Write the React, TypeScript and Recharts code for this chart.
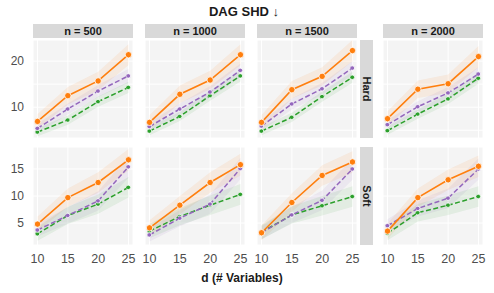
import { Area, CartesianGrid, ComposedChart, Line, XAxis, YAxis } from "recharts";

const dValues = [10, 15, 20, 25];
const sampleSizes = ["n = 500", "n = 1000", "n = 1500", "n = 2000"];
const settings = ["Hard", "Soft"];

// one inner list per sample size, values at d = 10, 15, 20, 25
const hardOrange = [
  [6.9, 12.5, 15.7, 21.4],
  [6.7, 12.8, 15.9, 21.4],
  [6.7, 13.8, 16.7, 22.3],
  [7.5, 13.9, 15.1, 21.0],
];
const hardPurple = [
  [5.4, 9.6, 13.5, 16.8],
  [5.8, 9.6, 13.3, 18.0],
  [5.9, 10.7, 14.0, 18.5],
  [6.2, 10.1, 13.1, 17.2],
];
const hardGreen = [
  [4.6, 7.2, 11.2, 14.3],
  [4.8, 8.0, 12.5, 16.8],
  [4.8, 7.8, 12.3, 16.5],
  [4.9, 8.5, 11.8, 16.3],
];
const softOrange = [
  [4.8, 9.7, 12.5, 16.7],
  [4.1, 8.3, 12.5, 15.8],
  [3.2, 8.8, 13.8, 16.3],
  [3.5, 9.7, 13.0, 15.5],
];
const softPurple = [
  [3.7, 6.4, 9.1, 15.4],
  [2.8, 5.9, 8.5, 15.1],
  [3.2, 6.5, 9.2, 15.0],
  [4.5, 7.7, 9.6, 15.0],
];
const softGreen = [
  [3.0, 6.4, 8.5, 11.6],
  [3.5, 6.2, 8.3, 10.3],
  [3.3, 6.5, 8.2, 9.9],
  [3.1, 6.9, 8.3, 9.9],
];

// half-width of the shaded band, at d = 10, 15, 20, 25
const hardOrangeSpread = [1.6, 1.9, 2.0, 2.3];
const hardPurpleSpread = [1.0, 1.2, 1.3, 1.5];
const hardGreenSpread = [0.9, 1.0, 1.1, 1.2];
const softOrangeSpread = [1.4, 1.7, 1.9, 2.0];
const softPurpleSpread = [1.2, 1.5, 1.8, 2.0];
const softGreenSpread = [1.3, 1.6, 1.8, 1.9];

const hardTicks = [5, 10, 15, 20];
const softTicks = [5, 10, 15];

const ORANGE = "#FF7F0E";
const PURPLE = "#9467BD";
const GREEN = "#2CA02C";

const colX = [33, 145, 257, 383];
const rowY = [40, 147];
const PW = 100;
const PH = 98;
const Y_AXIS_W = 33;
const X_AXIS_H = 24;
const SIDE = 8; // room either side so the outer tick labels are not clipped

const rows = [
  {
    orange: hardOrange, purple: hardPurple, green: hardGreen,
    spreads: [hardOrangeSpread, hardPurpleSpread, hardGreenSpread],
    domain: [3.3, 24.6], ticks: hardTicks, labelled: [10, 20],
  },
  {
    orange: softOrange, purple: softPurple, green: softGreen,
    spreads: [softOrangeSpread, softPurpleSpread, softGreenSpread],
    domain: [0.93, 19.07], ticks: softTicks, labelled: [5, 10, 15],
  },
];

function buildData(r: number, c: number) {
  const row = rows[r];
  return dValues.map((d, i) => {
    const o = row.orange[c][i];
    const p = row.purple[c][i];
    const g = row.green[c][i];
    return {
      d,
      orange: o,
      purple: p,
      green: g,
      orangeBand: [o - row.spreads[0][i], o + row.spreads[0][i]],
      purpleBand: [p - row.spreads[1][i], p + row.spreads[1][i]],
      greenBand: [g - row.spreads[2][i], g + row.spreads[2][i]],
    };
  });
}

const font = "Liberation Sans, Arial, sans-serif";
const tickStyle = { fontSize: 12, fill: "#4D4D4D", fontFamily: font };

function Panel({ r, c }: { r: number; c: number }) {
  const row = rows[r];
  const showY = c === 0;
  const showX = r === 1;
  const yw = showY ? Y_AXIS_W : 0;
  const width = PW + yw + 2 * SIDE;
  const height = PH + (showX ? X_AXIS_H : 0);
  return (
    <div style={{ position: "absolute", left: colX[c] - yw - SIDE, top: rowY[r] }}>
      <ComposedChart
        width={width}
        height={height}
        data={buildData(r, c)}
        margin={{ top: 0, right: SIDE, bottom: 0, left: SIDE }}
      >
        <CartesianGrid stroke="#FFFFFF" strokeWidth={1} fill="#F4F4F4" />
        <XAxis
          type="number"
          dataKey="d"
          domain={[9.25, 25.75]}
          ticks={dValues}
          allowDataOverflow
          hide={!showX}
          height={X_AXIS_H}
          tickLine={false}
          axisLine={false}
          tickSize={0}
          tickMargin={9}
          tick={{ ...tickStyle, fontSize: 12.5 }}
          interval={0}
        />
        <YAxis
          type="number"
          domain={row.domain}
          ticks={row.ticks}
          allowDataOverflow
          hide={!showY}
          width={Y_AXIS_W}
          tickLine={false}
          axisLine={false}
          tickSize={0}
          tickMargin={9}
          tick={tickStyle}
          interval={0}
          tickFormatter={(v: number) => (row.labelled.includes(v) ? String(v) : "")}
        />
        <Area dataKey="orangeBand" stroke="none" fill={ORANGE} fillOpacity={0.09} isAnimationActive={false} />
        <Area dataKey="purpleBand" stroke="none" fill={PURPLE} fillOpacity={0.09} isAnimationActive={false} />
        <Area dataKey="greenBand" stroke="none" fill={GREEN} fillOpacity={0.09} isAnimationActive={false} />
        <Line
          dataKey="green"
          stroke={GREEN}
          strokeWidth={1.5}
          strokeDasharray="5 2.5"
          dot={{ r: 2.2, fill: GREEN, stroke: "#FFFFFF", strokeWidth: 0.8 }}
          isAnimationActive={false}
        />
        <Line
          dataKey="purple"
          stroke={PURPLE}
          strokeWidth={1.5}
          strokeDasharray="5 2.5"
          dot={{ r: 2.2, fill: PURPLE, stroke: "#FFFFFF", strokeWidth: 0.8 }}
          isAnimationActive={false}
        />
        <Line
          dataKey="orange"
          stroke={ORANGE}
          strokeWidth={1.6}
          dot={{ r: 3.2, fill: ORANGE, stroke: "#FFFFFF", strokeWidth: 0.8 }}
          isAnimationActive={false}
        />
      </ComposedChart>
    </div>
  );
}

export default function App() {
  return (
    <div style={{ position: "absolute", left: 0, top: 0, width: 494, height: 293, background: "#FFFFFF", fontFamily: font }}>
      <div style={{ position: "absolute", left: 0, width: 488, top: 4, textAlign: "center", fontSize: 13, fontWeight: 700, color: "#1A1A1A" }}>
        DAG SHD ↓
      </div>
      {sampleSizes.map((label, c) => (
        <div
          key={label}
          style={{
            position: "absolute", left: colX[c], top: 24, width: PW, height: 14, background: "#D9D9D9",
            fontSize: 11, fontWeight: 700, color: "#1A1A1A", textAlign: "center", lineHeight: "14px",
          }}
        >
          {label}
        </div>
      ))}
      {settings.map((label, r) => (
        <div
          key={label}
          style={{
            position: "absolute", left: 360, top: rowY[r], width: 13, height: PH, background: "#D9D9D9",
            display: "flex", alignItems: "center", justifyContent: "center",
          }}
        >
          <span style={{ transform: "rotate(90deg)", fontSize: 11, fontWeight: 700, color: "#1A1A1A", whiteSpace: "nowrap" }}>
            {label}
          </span>
        </div>
      ))}
      {[0, 1].map((r) => [0, 1, 2, 3].map((c) => <Panel key={`${r}-${c}`} r={r} c={c} />))}
      <div style={{ position: "absolute", left: 0, width: 484, top: 271, textAlign: "center", fontSize: 12, fontWeight: 700, color: "#1A1A1A" }}>
        d (# Variables)
      </div>
    </div>
  );
}
